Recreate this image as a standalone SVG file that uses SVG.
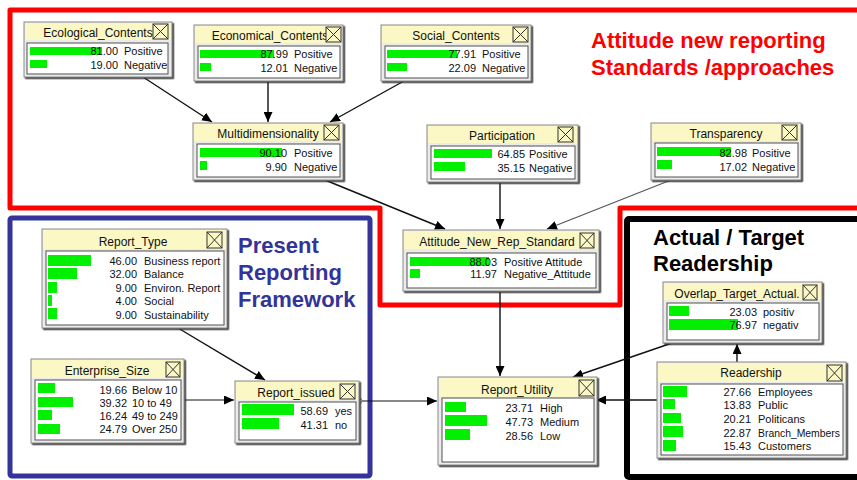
<svg xmlns="http://www.w3.org/2000/svg" width="857" height="480" viewBox="0 0 857 480">
<style>
.frame{fill:#ebebeb;stroke:#8a8a8a;stroke-width:1;filter:url(#sh)}
.tb{fill:#fbf8c6}
.body{fill:#ffffff;stroke:#505050;stroke-width:1}
.bar{fill:#00f000}
.cb{fill:#fbf8c6;stroke:#333;stroke-width:1}
.cx{stroke:#333;stroke-width:1;fill:none}
.t{font-family:"Liberation Sans",Arial,sans-serif;font-size:12px;fill:#111;text-anchor:middle}
.n{font-family:"Liberation Sans",Arial,sans-serif;font-size:11px;fill:#111;text-anchor:end}
.l{font-family:"Liberation Sans",Arial,sans-serif;font-size:11px;fill:#111}
.big{font-family:"Liberation Sans",Arial,sans-serif;font-size:22px;font-weight:bold}
.edge{stroke:#111;stroke-width:1.4;fill:none;marker-end:url(#ah)}
</style>
<defs>
<filter id="sh" x="-5%" y="-5%" width="115%" height="120%"><feDropShadow dx="1.5" dy="1.5" stdDeviation="0.4" flood-color="#303030"/></filter>
<marker id="ah" markerUnits="userSpaceOnUse" markerWidth="11" markerHeight="9" refX="10" refY="4.5" orient="auto"><path d="M0,0 L10,4.5 L0,9 z" fill="#000"/></marker>
</defs>
<rect width="857" height="480" fill="#fff"/>
<g id="regions">
<path d="M10,10 H880 V208 H620 V305 H380 V208 H10 Z" fill="none" stroke="#ff0000" stroke-width="5" stroke-linejoin="round"/>
<rect x="10" y="218" width="360" height="258" fill="none" stroke="#333399" stroke-width="5" rx="2"/>
<rect x="627" y="219" width="260" height="258" fill="none" stroke="#000" stroke-width="6" rx="2"/>
<text class="big" x="591" y="48" fill="#ff0000">Attitude new reporting</text>
<text class="big" x="591" y="75" fill="#ff0000">Standards /approaches</text>
<text class="big" x="238" y="253" fill="#333399">Present</text>
<text class="big" x="238" y="280" fill="#333399">Reporting</text>
<text class="big" x="238" y="307" fill="#333399">Framework</text>
<text class="big" x="653" y="245" fill="#000">Actual / Target</text>
<text class="big" x="653" y="271" fill="#000">Readership</text>
</g>
<g id="connectors">
<line class="edge" x1="143" y1="77" x2="212" y2="122"/>
<line class="edge" x1="268" y1="81" x2="268" y2="122"/>
<line class="edge" x1="404" y1="81" x2="330" y2="122"/>
<line class="edge" x1="325" y1="180" x2="445" y2="229"/>
<line class="edge" x1="500" y1="182" x2="500" y2="229"/>
<line class="edge" x1="671" y1="180" x2="547" y2="229" style="stroke:#555;stroke-width:1.2"/>
<line class="edge" x1="500" y1="291" x2="500" y2="376"/>
<line class="edge" x1="178" y1="328" x2="265" y2="380"/>
<line class="edge" x1="184" y1="400" x2="234" y2="400" style="stroke-width:1"/>
<line class="edge" x1="361" y1="401" x2="437" y2="401" style="stroke-width:1"/>
<circle cx="359.5" cy="401" r="2.5" fill="#fbf8c6" stroke="#777" stroke-width="1"/>
<line class="edge" x1="657" y1="400" x2="596" y2="400"/>
<line class="edge" x1="737" y1="362" x2="737" y2="344"/>
<line class="edge" x1="672" y1="343" x2="573" y2="377"/>
</g>
<g id="ecological">
<rect class="frame" x="24" y="22" width="148" height="55"/>
<rect class="tb" x="25" y="23" width="146" height="17"/>
<text class="t" x="98" y="37">Ecological_Contents</text>
<rect class="cb" x="153" y="24" width="15" height="15"/><path class="cx" d="M153,24 l15,15 M168,24 l-15,15"/>
<rect class="body" x="27" y="43" width="141" height="31"/>
<rect class="bar" x="30" y="47" width="72" height="8"/>
<rect class="bar" x="30" y="60" width="17" height="8"/>
<text class="n" x="118" y="55">81.00</text><text class="l" x="124" y="55">Positive</text>
<text class="n" x="118" y="69">19.00</text><text class="l" x="124" y="69">Negative</text>
</g>
<g id="economical">
<rect class="frame" x="194" y="25" width="149" height="56"/>
<rect class="tb" x="195" y="26" width="147" height="17"/>
<text class="t" x="270" y="40">Economical_Contents</text>
<rect class="cb" x="326" y="27" width="15" height="15"/><path class="cx" d="M326,27 l15,15 M341,27 l-15,15"/>
<rect class="body" x="198" y="46" width="142" height="32"/>
<rect class="bar" x="200" y="50" width="74" height="8"/>
<rect class="bar" x="200" y="63" width="11" height="8"/>
<text class="n" x="288" y="58">87.99</text><text class="l" x="294" y="58">Positive</text>
<text class="n" x="288" y="72">12.01</text><text class="l" x="294" y="72">Negative</text>
</g>
<g id="social">
<rect class="frame" x="381" y="25" width="150" height="56"/>
<rect class="tb" x="382" y="26" width="148" height="17"/>
<text class="t" x="456" y="40">Social_Contents</text>
<rect class="cb" x="513" y="27" width="15" height="15"/><path class="cx" d="M513,27 l15,15 M528,27 l-15,15"/>
<rect class="body" x="385" y="46" width="143" height="32"/>
<rect class="bar" x="387" y="50" width="70" height="8"/>
<rect class="bar" x="387" y="63" width="20" height="8"/>
<text class="n" x="476" y="58">77.91</text><text class="l" x="482" y="58">Positive</text>
<text class="n" x="476" y="72">22.09</text><text class="l" x="482" y="72">Negative</text>
</g>
<g id="multidimensionality">
<rect class="frame" x="193" y="123" width="150" height="57"/>
<rect class="tb" x="194" y="124" width="148" height="17"/>
<text class="t" x="268" y="138">Multidimensionality</text>
<rect class="cb" x="324" y="125" width="15" height="15"/><path class="cx" d="M324,125 l15,15 M339,125 l-15,15"/>
<rect class="body" x="197" y="144" width="143" height="33"/>
<rect class="bar" x="200" y="148" width="82" height="9"/>
<rect class="bar" x="200" y="161" width="7" height="9"/>
<text class="n" x="287" y="157">90.10</text><text class="l" x="294" y="157">Positive</text>
<text class="n" x="287" y="171">9.90</text><text class="l" x="294" y="171">Negative</text>
</g>
<g id="participation">
<rect class="frame" x="427" y="125" width="151" height="57"/>
<rect class="tb" x="428" y="126" width="149" height="17"/>
<text class="t" x="502" y="140">Participation</text>
<rect class="cb" x="558" y="127" width="15" height="15"/><path class="cx" d="M558,127 l15,15 M573,127 l-15,15"/>
<rect class="body" x="431" y="146" width="144" height="33"/>
<rect class="bar" x="434" y="149" width="58" height="9"/>
<rect class="bar" x="434" y="162" width="31" height="9"/>
<text class="n" x="525" y="158">64.85</text><text class="l" x="529" y="158">Positive</text>
<text class="n" x="525" y="172">35.15</text><text class="l" x="529" y="172">Negative</text>
</g>
<g id="transparency">
<rect class="frame" x="651" y="123" width="150" height="57"/>
<rect class="tb" x="652" y="124" width="148" height="17"/>
<text class="t" x="726" y="138">Transparency</text>
<rect class="cb" x="782" y="125" width="15" height="15"/><path class="cx" d="M782,125 l15,15 M797,125 l-15,15"/>
<rect class="body" x="655" y="143" width="143" height="34"/>
<rect class="bar" x="657" y="147" width="74" height="9"/>
<rect class="bar" x="657" y="160" width="15" height="9"/>
<text class="n" x="747" y="157">82.98</text><text class="l" x="752" y="157">Positive</text>
<text class="n" x="747" y="171">17.02</text><text class="l" x="752" y="171">Negative</text>
</g>
<g id="attitude">
<rect class="frame" x="403" y="230" width="196" height="61"/>
<rect class="tb" x="404" y="231" width="194" height="18"/>
<text class="t" x="497" y="246">Attitude_New_Rep_Standard</text>
<rect class="cb" x="580" y="233" width="14" height="15"/><path class="cx" d="M580,233 l14,15 M594,233 l-14,15"/>
<rect class="body" x="407" y="253" width="189" height="35"/>
<rect class="bar" x="410" y="257" width="79" height="9"/>
<rect class="bar" x="410" y="269" width="10" height="9"/>
<text class="n" x="497" y="266">88.03</text><text class="l" x="504" y="266">Positive Attitude</text>
<text class="n" x="497" y="278">11.97</text><text class="l" x="504" y="278">Negative_Attitude</text>
</g>
<g id="report_type">
<rect class="frame" x="42" y="229" width="185" height="99"/>
<rect class="tb" x="43" y="230" width="183" height="19"/>
<text class="t" x="133" y="246">Report_Type</text>
<rect class="cb" x="207" y="232" width="15" height="16"/><path class="cx" d="M207,232 l15,16 M222,232 l-15,16"/>
<rect class="body" x="46" y="251" width="178" height="74"/>
<rect class="bar" x="48" y="255" width="43" height="11"/>
<rect class="bar" x="48" y="268" width="29" height="11"/>
<rect class="bar" x="48" y="282" width="9" height="11"/>
<rect class="bar" x="48" y="295" width="4" height="11"/>
<rect class="bar" x="48" y="308" width="9" height="11"/>
<text class="n" x="137" y="265">46.00</text><text class="l" x="144" y="265">Business report</text>
<text class="n" x="137" y="278">32.00</text><text class="l" x="144" y="278">Balance</text>
<text class="n" x="137" y="292">9.00</text><text class="l" x="144" y="292">Environ. Report</text>
<text class="n" x="137" y="305">4.00</text><text class="l" x="144" y="305">Social</text>
<text class="n" x="137" y="319">9.00</text><text class="l" x="144" y="319">Sustainability</text>
</g>
<g id="enterprise_size">
<rect class="frame" x="31" y="359" width="153" height="84"/>
<rect class="tb" x="32" y="360" width="151" height="18"/>
<text class="t" x="107" y="375">Enterprise_Size</text>
<rect class="cb" x="166" y="362" width="14" height="15"/><path class="cx" d="M166,362 l14,15 M180,362 l-14,15"/>
<rect class="body" x="35" y="380" width="146" height="60"/>
<rect class="bar" x="38" y="383" width="17" height="10"/>
<rect class="bar" x="38" y="397" width="35" height="10"/>
<rect class="bar" x="38" y="410" width="14" height="10"/>
<rect class="bar" x="38" y="424" width="22" height="10"/>
<text class="n" x="127" y="394">19.66</text><text class="l" x="132" y="394">Below 10</text>
<text class="n" x="127" y="407">39.32</text><text class="l" x="132" y="407">10 to 49</text>
<text class="n" x="127" y="420">16.24</text><text class="l" x="132" y="420">49 to 249</text>
<text class="n" x="127" y="433">24.79</text><text class="l" x="132" y="433">Over 250</text>
</g>
<g id="report_issued">
<rect class="frame" x="235" y="381" width="124" height="62"/>
<rect class="tb" x="236" y="382" width="122" height="18"/>
<text class="t" x="296" y="397">Report_issued</text>
<rect class="cb" x="340" y="384" width="15" height="15"/><path class="cx" d="M340,384 l15,15 M355,384 l-15,15"/>
<rect class="body" x="239" y="402" width="117" height="38"/>
<rect class="bar" x="242" y="404" width="52" height="11"/>
<rect class="bar" x="242" y="418" width="37" height="11"/>
<text class="n" x="328" y="415">58.69</text><text class="l" x="335" y="415">yes</text>
<text class="n" x="328" y="429">41.31</text><text class="l" x="335" y="429">no</text>
</g>
<g id="report_utility">
<rect class="frame" x="438" y="377" width="159" height="88"/>
<rect class="tb" x="439" y="378" width="157" height="19"/>
<text class="t" x="517" y="394">Report_Utility</text>
<rect class="cb" x="579" y="380" width="15" height="16"/><path class="cx" d="M579,380 l15,16 M594,380 l-15,16"/>
<rect class="body" x="442" y="398" width="152" height="64"/>
<rect class="bar" x="445" y="402" width="21" height="10"/>
<rect class="bar" x="445" y="415" width="42" height="11"/>
<rect class="bar" x="445" y="429" width="25" height="11"/>
<text class="n" x="533" y="412">23.71</text><text class="l" x="540" y="412">High</text>
<text class="n" x="533" y="426">47.73</text><text class="l" x="540" y="426">Medium</text>
<text class="n" x="533" y="440">28.56</text><text class="l" x="540" y="440">Low</text>
</g>
<g id="overlap">
<rect class="frame" x="663" y="282" width="159" height="61"/>
<rect class="tb" x="664" y="283" width="157" height="17"/>
<text class="t" x="737" y="298">Overlap_Target_Actual.</text>
<rect class="cb" x="803" y="285" width="14" height="15"/><path class="cx" d="M803,285 l14,15 M817,285 l-14,15"/>
<rect class="body" x="667" y="303" width="152" height="37"/>
<rect class="bar" x="669" y="306" width="20" height="10"/>
<rect class="bar" x="669" y="319" width="69" height="11"/>
<text class="n" x="757" y="316">23.03</text><text class="l" x="763" y="316">positiv</text>
<text class="n" x="757" y="329">76.97</text><text class="l" x="763" y="329">negativ</text>
</g>
<g id="readership">
<rect class="frame" x="657" y="362" width="189" height="96"/>
<rect class="tb" x="658" y="363" width="187" height="19"/>
<text class="t" x="751" y="377">Readership</text>
<rect class="cb" x="827" y="365" width="15" height="16"/><path class="cx" d="M827,365 l15,16 M842,365 l-15,16"/>
<rect class="body" x="661" y="384" width="182" height="71"/>
<rect class="bar" x="663" y="386" width="24" height="11"/>
<rect class="bar" x="663" y="399" width="12" height="10"/>
<rect class="bar" x="663" y="413" width="18" height="10"/>
<rect class="bar" x="663" y="426" width="20" height="11"/>
<rect class="bar" x="663" y="440" width="13" height="11"/>
<text class="n" x="751" y="396">27.66</text><text class="l" x="758" y="396">Employees</text>
<text class="n" x="751" y="409">13.83</text><text class="l" x="758" y="409">Public</text>
<text class="n" x="751" y="423">20.21</text><text class="l" x="758" y="423">Politicans</text>
<text class="n" x="751" y="437">22.87</text><text class="l" x="758" y="437" textLength="82" lengthAdjust="spacingAndGlyphs">Branch_Members</text>
<text class="n" x="751" y="450">15.43</text><text class="l" x="758" y="450">Customers</text>
</g>
</svg>
